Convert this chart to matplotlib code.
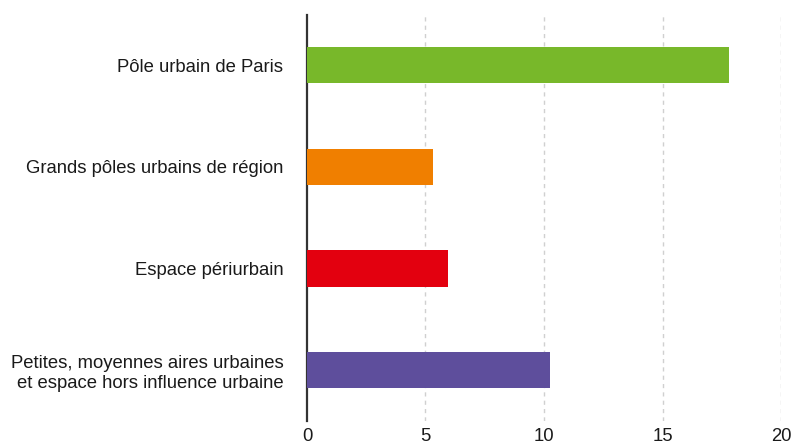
import matplotlib
matplotlib.use("Agg")
import matplotlib.pyplot as plt

categories = [
    "Pôle urbain de Paris",
    "Grands pôles urbains de région",
    "Espace périurbain",
    "Petites, moyennes aires urbaines\net espace hors influence urbaine",
]
values = [17.8, 5.3, 5.95, 10.25]
colors = ["#78b82a", "#f07f00", "#e3000f", "#5e4e9c"]
xticks = [0, 5, 10, 15, 20]

plt.rcParams["font.family"] = ["Liberation Sans", "DejaVu Sans"]

fig = plt.figure(figsize=(7.91, 4.45), dpi=100)
ax = fig.add_axes([0.3881, 0.0545, 0.5993, 0.9124])

ypos = list(range(len(categories)))
ax.barh(ypos, values, height=0.355, color=colors, zorder=3)

ax.set_ylim(len(categories) - 0.5, -0.5)
ax.set_xlim(0, 20)
ax.set_xticks(xticks)
ax.set_xticklabels([str(t) for t in xticks], fontsize=13.3, color="#1a1a1a")
ax.set_yticks(ypos)
ax.set_yticklabels(categories, fontsize=13.3, color="#1a1a1a", linespacing=1.2)
ax.tick_params(axis="both", length=0)
ax.tick_params(axis="y", pad=17)
ax.tick_params(axis="x", pad=5)

for t in xticks[1:]:
    ax.axvline(t, color="#d0d0d0", lw=1, ls=(0, (3, 3)), zorder=1)

for side in ["top", "right", "bottom"]:
    ax.spines[side].set_visible(False)
ax.spines["left"].set_color("#333333")
ax.spines["left"].set_linewidth(1.6)

fig.savefig("out.png", dpi=100)
